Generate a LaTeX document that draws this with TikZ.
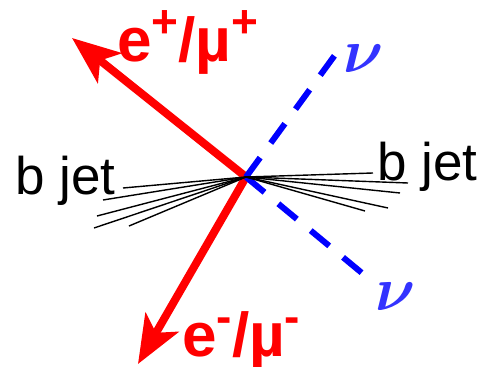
\documentclass[tikz,border=0pt]{standalone}
\usepackage{amsmath}
\usepackage{fontspec}
\setmainfont{Liberation Sans}
\usepackage{xcolor}
\usetikzlibrary{arrows.meta, positioning, calc}
\definecolor{leptonred}{rgb}{1, 0, 0}
\definecolor{nublue}{rgb}{0, 0, 1}
\definecolor{nutext}{rgb}{0.2, 0.2, 1}
% raised charge sign
\newcommand{\chargesign}[1]{\raisebox{24pt}{\fontsize{46}{46}\selectfont #1}}

\tikzset{
  lepton/.style={leptonred, line width=8pt, -{Stealth[length=48pt, width=38pt, inset=12pt]}},
  neutrino/.style={nublue, line width=6pt, dash pattern=on 24pt off 18pt},
  jetline/.style={black, line width=1.4pt},
  leptonlabel/.style={text=leptonred, inner sep=0pt, anchor=base west, font=\fontsize{62}{62}\selectfont\bfseries},
  jetlabel/.style={inner sep=0pt, anchor=base west, font=\fontsize{53}{53}\selectfont},
  nulabel/.style={text=nutext, inner sep=0pt, font=\Huge, scale=2.5}
}

\begin{document}
\begin{tikzpicture}[x=1pt, y=-1pt]
        \useasboundingbox (0,0) rectangle (480,367);
        % Vertex and end points
        \coordinate (vtx) at (246,177);
        \coordinate (lplus) at (72,38);
        \coordinate (lminus) at (138,364);
        \coordinate (nuup) at (335,55);
        \coordinate (nudown) at (368,278);
        \foreach \x/\y [count=\i] in {123/188, 103/200, 97/216, 94/228, 129/226}
          \coordinate (jl\i) at (\x,\y);
        \foreach \x/\y [count=\i] in {373/173, 408/183, 400/193, 388/208, 365/211}
          \coordinate (jr\i) at (\x,\y);
        % Leptons
        \draw [lepton] (vtx) -- (lplus);
        \draw [lepton] (vtx) -- (lminus);
        % Neutrinos
        \draw [neutrino] (vtx) -- (nuup);
        \draw [neutrino] (vtx) -- (nudown);
        % Jets
        \foreach \i in {1,...,5} {
          \draw [jetline] (vtx) -- (jl\i);
          \draw [jetline] (vtx) -- (jr\i);
        }
        % Labels
        \node [leptonlabel] (lplustext) at (117,61) {e\chargesign{+}/µ\chargesign{+}};
        \node [leptonlabel] (lminustext) at (182,356) {e\chargesign{-}/µ\chargesign{-}};
        \node [jetlabel] (jetleft) at (15,194) {b jet};
        \node [jetlabel] (jetright) at (377,180) {b jet};
        \node [nulabel] (nuuptext) at (364,59) {$\boldsymbol{\nu}$};
        \node [nulabel] (nudowntext) at (396,297) {$\boldsymbol{\nu}$};
    \end{tikzpicture}
\end{document}
